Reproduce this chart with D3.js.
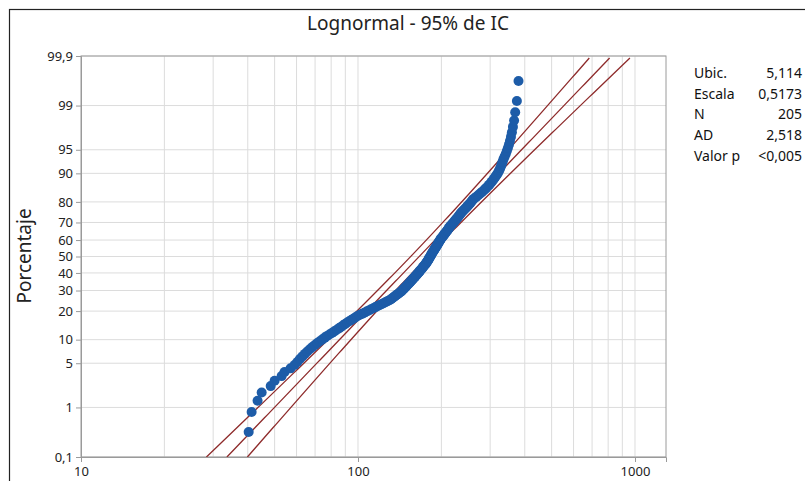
<!DOCTYPE html>
<html lang="es">
<head>
    <meta charset="UTF-8">
    <script src="https://cdnjs.cloudflare.com/ajax/libs/d3/7.8.5/d3.min.js"></script>
    <title>Lognormal - 95% de IC</title>
<style>
    body{
        margin: 0;
        background: white;
        font-family: 'Noto Sans', 'Open Sans', sans-serif;
    }
    svg{ display: block; }
    .axis path{ stroke: #9a9a9a; }
    .axis line{ stroke: #9a9a9a; }
    .axis text{ fill: #222; font-size: 13px; font-family: 'Noto Sans', sans-serif; }
    .grid line{ stroke: #dcdcdc; stroke-width: 1; }
</style>
</head>
<body>
<svg></svg>
<script>
    // sorted sample values (n = 205)
    const values = [
        40.3, 41.3, 43.4, 44.9, 48.4, 50.0, 53.0, 54.3, 57.1, 59.0,
        60.4, 61.7, 63.0, 64.3, 65.6, 67.0, 68.4, 69.9, 71.3, 72.8,
        74.4, 75.9, 77.4, 79.1, 80.8, 82.4, 84.1, 85.6, 87.0, 88.5,
        89.9, 91.4, 93.0, 94.6, 96.1, 97.7, 99.3, 101.3, 103.4, 105.4,
        107.4, 109.5, 111.5, 113.6, 115.7, 117.8, 119.9, 122.0, 124.0, 126.1,
        128.2, 130.3, 131.9, 133.3, 134.8, 136.2, 137.6, 139.1, 140.5, 141.9,
        143.4, 144.4, 145.5, 146.5, 147.5, 148.6, 149.6, 150.6, 151.7, 152.7,
        153.7, 154.7, 155.7, 156.7, 157.7, 158.7, 159.7, 160.7, 161.7, 162.7,
        163.6, 164.6, 165.6, 166.5, 167.4, 168.3, 169.3, 170.2, 171.1, 172.0,
        172.9, 173.9, 174.8, 175.7, 176.6, 177.4, 178.1, 178.8, 179.5, 180.2,
        180.9, 181.6, 182.3, 183.0, 183.6, 184.3, 185.0, 185.7, 186.5, 187.3,
        188.1, 188.9, 189.7, 190.4, 191.2, 192.0, 192.8, 193.6, 194.4, 195.1,
        195.9, 196.7, 197.5, 198.3, 199.1, 200.2, 201.3, 202.4, 203.5, 204.5,
        205.6, 206.7, 207.8, 208.9, 210.0, 211.1, 212.2, 213.2, 214.3, 215.4,
        216.8, 218.3, 219.7, 221.1, 222.6, 224.0, 225.4, 226.8, 228.3, 229.7,
        231.1, 232.6, 234.0, 235.4, 237.2, 239.2, 241.1, 243.1, 245.1, 247.1,
        249.0, 251.0, 253.0, 255.0, 257.0, 258.9, 260.9, 264.2, 267.6, 270.9,
        274.3, 277.6, 280.9, 284.3, 287.6, 291.0, 294.3, 297.5, 300.5, 303.6,
        306.7, 309.7, 312.8, 315.9, 319.0, 321.7, 324.0, 326.3, 328.5, 330.8,
        333.0, 335.3, 338.4, 341.5, 344.6, 347.6, 350.7, 353.6, 356.6, 359.5,
        362.5, 366.0, 369.4, 374.6, 379.7
    ]

    // fitted parameters shown in the legend
    const ubic = 5.114,
        escala = 0.5173,
        nObs = 205
    const legendLabels = ['Ubic.', 'Escala', 'N', 'AD', 'Valor p']
    const legendValues = ['5,114', '0,5173', '205', '2,518', '<0,005']

    const yTicks = [0.1, 1, 5, 10, 20, 30, 40, 50, 60, 70, 80, 90, 95, 99, 99.9]
    const yTickLabels = ['0,1', '1', '5', '10', '20', '30', '40', '50', '60', '70', '80', '90', '95', '99', '99,9']
    const xTicks = [10, 100, 1000]
    const xGrid = [20, 30, 40, 50, 60, 70, 80, 90, 100, 200, 300, 400, 500, 600, 700, 800, 900, 1000]

    // inverse normal cdf (Acklam)
    function probit(p) {
        const a = [-3.969683028665376e+01, 2.209460984245205e+02, -2.759285104469687e+02, 1.383577518672690e+02, -3.066479806614716e+01, 2.506628277459239e+00]
        const b = [-5.447609879822406e+01, 1.615858368580409e+02, -1.556989798598866e+02, 6.680131188771972e+01, -1.328068155288572e+01]
        const c = [-7.784894002430293e-03, -3.223964580411365e-01, -2.400758277161838e+00, -2.549732539343734e+00, 4.374664141464968e+00, 2.938163982698783e+00]
        const d = [7.784695709041462e-03, 3.224671290700398e-01, 2.445134137142996e+00, 3.754408661907416e+00]
        const pl = 0.02425
        let q, r
        if (p < pl) {
            q = Math.sqrt(-2 * Math.log(p))
            return (((((c[0]*q+c[1])*q+c[2])*q+c[3])*q+c[4])*q+c[5]) / ((((d[0]*q+d[1])*q+d[2])*q+d[3])*q+1)
        }
        if (p > 1 - pl) {
            q = Math.sqrt(-2 * Math.log(1 - p))
            return -(((((c[0]*q+c[1])*q+c[2])*q+c[3])*q+c[4])*q+c[5]) / ((((d[0]*q+d[1])*q+d[2])*q+d[3])*q+1)
        }
        q = p - 0.5
        r = q * q
        return (((((a[0]*r+a[1])*r+a[2])*r+a[3])*r+a[4])*r+a[5])*q / (((((b[0]*r+b[1])*r+b[2])*r+b[3])*r+b[4])*r+1)
    }

    const W = 805, H = 481
    const margin = { top: 56, bot: 24, left: 81, right: 139 }
    const zMax = probit(0.999)

    const xScale = d3.scaleLog()
        .domain([10, 1294])
        .range([margin.left, W - margin.right])

    const yScale = d3.scaleLinear()
        .domain([-zMax, zMax])
        .range([H - margin.bot, margin.top])

    const svg = d3.select('svg')
        .attr('width', W)
        .attr('height', H)

    // outer frame
    svg.append('rect')
        .attr('x', 9.5).attr('y', 9.5)
        .attr('width', 900).attr('height', 600)
        .attr('fill', 'none')
        .attr('stroke', '#222')
        .attr('stroke-width', 1.2)

    // title
    svg.append('text')
        .attr('x', 408)
        .attr('y', 30)
        .attr('text-anchor', 'middle')
        .style('font-size', '19px')
        .style('fill', '#222')
        .text('Lognormal - 95% de IC')

    // grid
    const grid = svg.append('g').attr('class', 'grid')
    grid.selectAll('.vg')
        .data(xGrid)
        .enter()
        .append('line')
        .attr('x1', d => xScale(d)).attr('x2', d => xScale(d))
        .attr('y1', yScale(-zMax)).attr('y2', yScale(zMax))
    grid.selectAll('.hg')
        .data(yTicks)
        .enter()
        .append('line')
        .attr('x1', xScale.range()[0]).attr('x2', xScale.range()[1])
        .attr('y1', d => yScale(probit(d / 100))).attr('y2', d => yScale(probit(d / 100)))

    // plot border
    svg.append('rect')
        .attr('x', xScale.range()[0]).attr('y', yScale(zMax))
        .attr('width', xScale.range()[1] - xScale.range()[0])
        .attr('height', yScale(-zMax) - yScale(zMax))
        .attr('fill', 'none')
        .attr('stroke', '#9a9a9a')

    // fit line and 95% CI from legend parameters
    svg.append('clipPath').attr('id', 'plotclip')
        .append('rect')
        .attr('x', xScale.range()[0]).attr('y', yScale(zMax))
        .attr('width', xScale.range()[1] - xScale.range()[0])
        .attr('height', yScale(-zMax) - yScale(zMax))

    const zs = d3.range(-zMax, zMax + 0.001, 0.05)
    const se = z => escala * Math.sqrt((1 + z * z / 2) / nObs)
    const lines = [
        zs.map(z => [Math.exp(ubic + escala * z - 1.96 * se(z)), z]),
        zs.map(z => [Math.exp(ubic + escala * z), z]),
        zs.map(z => [Math.exp(ubic + escala * z + 1.96 * se(z)), z])
    ]
    const lineGen = d3.line()
        .x(d => xScale(d[0]))
        .y(d => yScale(d[1]))

    svg.append('g')
        .attr('clip-path', 'url(#plotclip)')
        .selectAll('path')
        .data(lines)
        .enter()
        .append('path')
        .attr('d', lineGen)
        .attr('fill', 'none')
        .attr('stroke', '#8e2b2b')
        .attr('stroke-width', 1.3)

    // points at median ranks
    svg.append('g')
        .selectAll('circle')
        .data(values)
        .enter()
        .append('circle')
        .attr('cx', d => xScale(d))
        .attr('cy', (d, i) => yScale(probit((i + 1 - 0.3) / (nObs + 0.4))))
        .attr('r', 5)
        .attr('fill', '#1d5ca8')

    // axes
    const xAxis = d3.axisBottom(xScale)
        .tickValues(xTicks)
        .tickFormat(d3.format('d'))
        .tickSizeOuter(0)
        .tickSize(5)
        .tickPadding(5)
    const yAxis = d3.axisLeft(yScale)
        .tickValues(yTicks.map(p => probit(p / 100)))
        .tickFormat((d, i) => yTickLabels[i])
        .tickSizeOuter(0)
        .tickSize(5)
        .tickPadding(3)

    svg.append('g')
        .attr('class', 'axis')
        .attr('transform', 'translate(0,' + yScale(-zMax) + ')')
        .call(xAxis)

    svg.append('g')
        .attr('class', 'axis')
        .attr('transform', 'translate(' + xScale.range()[0] + ',0)')
        .call(yAxis)

    // axis name
    svg.append('text')
        .attr('transform', 'rotate(-90)')
        .attr('x', -256)
        .attr('y', 31)
        .attr('text-anchor', 'middle')
        .style('font-size', '19px')
        .style('fill', '#222')
        .text('Porcentaje')

    // legend table
    const leg = svg.append('g')
    leg.selectAll('.lab')
        .data(legendLabels)
        .enter()
        .append('text')
        .attr('x', 694)
        .attr('y', (d, i) => 78 + i * 20.7)
        .style('font-size', '14px')
        .style('fill', '#111')
        .text(d => d)
    leg.selectAll('.val')
        .data(legendValues)
        .enter()
        .append('text')
        .attr('x', 802)
        .attr('y', (d, i) => 78 + i * 20.7)
        .attr('text-anchor', 'end')
        .style('font-size', '14px')
        .style('fill', '#111')
        .text(d => d)
</script>
</body>
</html>
